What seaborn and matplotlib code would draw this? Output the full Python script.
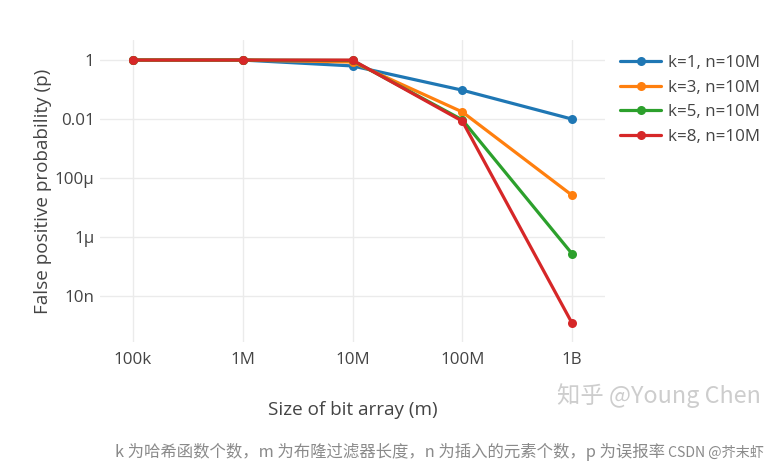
import matplotlib
matplotlib.use("Agg")
import matplotlib.pyplot as plt
import seaborn as sns
import pandas as pd
import numpy as np

# ---- data ----
m_sizes = [1e5, 1e6, 1e7, 1e8, 1e9]
x_tick_labels = ["100k", "1M", "10M", "100M", "1B"]
y_tick_values = [1, 1e-2, 1e-4, 1e-6, 1e-8]
y_tick_labels = ["1", "0.01", "100µ", "1µ", "10n"]

series_names = ["k=1, n=10M", "k=3, n=10M", "k=5, n=10M", "k=8, n=10M"]
p_k1 = [1.0, 1.0, 0.632, 0.0952, 0.00995]
p_k3 = [1.0, 1.0, 0.858, 0.0174, 2.6e-5]
p_k5 = [1.0, 1.0, 0.967, 0.0094, 2.7e-7]
p_k8 = [1.0, 1.0, 0.997, 0.0085, 1.2e-9]
colors = ["#1f77b4", "#ff7f0e", "#2ca02c", "#d62728"]

rows = []
for name, vals in zip(series_names, [p_k1, p_k3, p_k5, p_k8]):
    for m, p in zip(m_sizes, vals):
        rows.append({"m": m, "p": p, "series": name})
df = pd.DataFrame(rows)

sns.set_theme(style="white")
plt.rcParams["font.family"] = ["Open Sans", "DejaVu Sans"]

W, H = 782, 473
fig = plt.figure(figsize=(W / 100, H / 100), dpi=100)
ax = fig.add_axes([100 / W, 1 - 342 / H, 505 / W, 302 / H])

sns.lineplot(data=df, x="m", y="p", hue="series", hue_order=series_names,
             palette=colors, marker="o", markersize=6.5, markeredgewidth=0,
             linewidth=2.3, ax=ax, legend=True)

ax.set_xscale("log")
ax.set_yscale("log")
ax.set_xlim(10 ** 4.70, 10 ** 9.30)
ax.set_ylim(10 ** -9.56, 10 ** 0.68)

ax.xaxis.set_major_locator(matplotlib.ticker.FixedLocator(m_sizes))
ax.xaxis.set_major_formatter(matplotlib.ticker.FixedFormatter(x_tick_labels))
ax.xaxis.set_minor_locator(matplotlib.ticker.NullLocator())
ax.yaxis.set_major_locator(matplotlib.ticker.FixedLocator(y_tick_values))
ax.yaxis.set_major_formatter(matplotlib.ticker.FixedFormatter(y_tick_labels))
ax.yaxis.set_minor_locator(matplotlib.ticker.NullLocator())

ax.grid(True, color="#ebebeb", linewidth=1.0)
ax.set_axisbelow(True)
for s in ax.spines.values():
    s.set_visible(False)
ax.tick_params(axis="both", length=0, labelsize=12.2, labelcolor="#444444")
ax.tick_params(axis="x", pad=7)
ax.tick_params(axis="y", pad=4)

ax.set_xlabel("Size of bit array (m)", fontsize=13.6, color="#444444", labelpad=24)
ax.set_ylabel("False positive probability (p)", fontsize=13.6, color="#444444", labelpad=2)

leg = ax.legend(loc="upper left", bbox_to_anchor=(1.0, 1.0), frameon=False,
                fontsize=12.2, labelcolor="#444444", handlelength=2.4,
                handletextpad=0.4, labelspacing=0.5, borderaxespad=0.5)

cjk = ["Noto Sans CJK SC", "DejaVu Sans"]
fig.text(557 / W, 1 - 396 / H, "知乎 @Young Chen", family=cjk, fontsize=16.8,
         color="#cdcdcd", va="center", ha="left")
fig.text(115 / W, 1 - 452 / H,
         "k 为哈希函数个数，m 为布隆过滤器长度，n 为插入的元素个数，p 为误报率",
         family=cjk, fontsize=11.8, color="#8a8a8a", va="center", ha="left")
fig.text(668 / W, 1 - 453 / H, "CSDN @芥末虾", family=cjk, fontsize=10.2,
         color="#8a8a8a", va="center", ha="left")

fig.savefig("out.png", dpi=100)
